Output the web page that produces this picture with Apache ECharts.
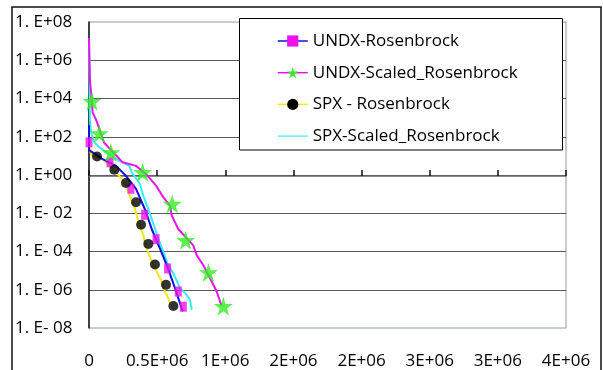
<!DOCTYPE html>
<html>
<head>
<meta charset="utf-8">
<script src="https://cdn.jsdelivr.net/npm/echarts@6/dist/echarts.min.js"></script>
<style>
html,body{margin:0;padding:0;background:#fff;}
#chart{width:603px;height:370px;}
</style>
</head>
<body>
<div id="chart"></div>
<script>
// ---- data ----
const xTickLabels = ['0', '0.5E+06', '1E+06', '2E+06', '2E+06', '3E+06', '3E+06', '4E+06'];
const yTickLabels = ['1. E- 08', '1. E- 06', '1. E- 04', '1. E- 02', '1. E+00', '1. E+02', '1. E+04', '1. E+06', '1. E+08'];
const seriesNames = ['UNDX-Rosenbrock', 'UNDX-Scaled_Rosenbrock', 'SPX - Rosenbrock', 'SPX-Scaled_Rosenbrock'];

// UNDX-Rosenbrock (line + square markers)
const undxRosX = [0, 0, 100000, 198000, 271000, 345000, 418000, 460000, 521000, 580000, 631000, 688000];
const undxRosY = [4e2, 2e1, 6.8, 3.0, 0.91, 0.19, 1.2e-2, 1.5e-3, 1.4e-4, 1.3e-5, 1.2e-6, 7.4e-8];
const undxRosMarkX = [0, 154000, 308000, 408000, 492000, 577000, 655000, 692000];
const undxRosMarkY = [51, 4.6, 0.19, 8.3e-3, 4.4e-4, 1.3e-5, 8.1e-7, 1.3e-7];

// UNDX-Scaled_Rosenbrock (line + star markers)
const undxScX = [0, 7300, 14700, 27000, 51000, 110000, 247000, 345000, 431000, 492000, 545000, 594000, 607000, 655000, 765000, 790000, 839000, 888000, 937000, 961000, 975000];
const undxScY = [1.4e7, 7.9e4, 2.4e4, 1.8e3, 8.1e2, 50, 4.6, 3.0, 0.91, 0.28, 6.9e-2, 2.5e-2, 7.8e-3, 1.5e-3, 2.1e-4, 6.5e-5, 1.9e-5, 4.0e-6, 8.1e-7, 2.5e-7, 1.4e-7];
const undxScMarkX = [22000, 76000, 161000, 394000, 611000, 709000, 876000, 986000];
const undxScMarkY = [7.2e3, 1.5e2, 15, 1.4, 3.1e-2, 3.9e-4, 8.1e-6, 1.4e-7];

// SPX - Rosenbrock (line + dot markers)
const spxRosX = [0, 14700, 100000, 149000, 222000, 259000, 288000, 338000, 362000, 398000, 423000, 460000, 497000, 533000, 558000, 582000, 594000];
const spxRosY = [40, 12, 6.8, 3.0, 0.91, 0.42, 0.13, 1.7e-2, 3.5e-3, 7.1e-4, 1.4e-4, 2.9e-5, 8.9e-6, 2.7e-6, 8.1e-7, 3.6e-7, 2.0e-7];
const spxRosMarkX = [58700, 186000, 271000, 345000, 382000, 435000, 484000, 565000, 619000];
const spxRosMarkY = [9.3, 1.9, 0.38, 3.8e-2, 2.5e-3, 2.5e-4, 2.1e-5, 1.8e-6, 1.4e-7];

// SPX-Scaled_Rosenbrock (line only)
const spxScX = [0, 7300, 14700, 39000, 76000, 222000, 296000, 313000, 374000, 398000, 435000, 472000, 509000, 545000, 582000, 619000, 668000, 717000, 741000, 754000];
const spxScY = [1.4e7, 7.9e2, 1.7e2, 50, 28, 5.5, 3.0, 1.4, 0.34, 8.3e-2, 1.7e-2, 2.8e-3, 4.8e-4, 9.5e-5, 1.9e-5, 7.2e-6, 1.2e-6, 5.4e-7, 3.0e-7, 8.9e-8];

// ---- chart ----
const FONT = '"Open Sans", "Liberation Sans", sans-serif';
const zip = (xs, ys) => xs.map((x, i) => [x, ys[i]]);
const STAR = 'path://M50,0 L61,35 L98,35 L68,57 L79,91 L50,70 L21,91 L32,57 L2,35 L39,35 Z';

const chart = echarts.init(document.getElementById('chart'), null, {renderer: 'canvas'});
const option = {
  animation: false,
  backgroundColor: '#fff',
  textStyle: {fontFamily: FONT},
  grid: {left: 89, top: 22, right: 37, bottom: 40, show: true, borderColor: '#8d9ca4', borderWidth: 1, backgroundColor: 'transparent'},
  graphic: [
    {type: 'rect', z: 10, shape: {x: 12, y: 7, width: 589, height: 420}, style: {fill: 'none', stroke: '#111', lineWidth: 1.5}},
    {type: 'rect', z: 3, shape: {x: 239.5, y: 18.5, width: 323, height: 131.5}, style: {fill: '#fff', stroke: '#000', lineWidth: 1}}
  ],
  legend: {
    orient: 'vertical', left: 277, top: 32, padding: 0, z: 5,
    itemWidth: 30, itemHeight: 14, itemGap: 13.7,
    textStyle: {fontSize: 17, lineHeight: 18, color: '#000', fontFamily: FONT},
    lineStyle: {width: 1.5},
    data: [
      {name: seriesNames[0]},
      {name: seriesNames[1]},
      {name: seriesNames[2]},
      {name: seriesNames[3], icon: 'path://M0,0 L100,0 L100,4 L0,4 Z'}
    ]
  },
  xAxis: [
    {
      type: 'value', min: 0, max: 3.5e6, interval: 5e5, position: 'bottom',
      axisLine: {show: false}, axisTick: {show: false}, splitLine: {show: false},
      axisLabel: {margin: 25, fontSize: 17, color: '#000', fontFamily: FONT,
        formatter: v => xTickLabels[Math.round(v / 5e5)]}
    },
    {
      type: 'value', min: 0, max: 3.5e6, interval: 5e5, position: 'top', offset: -154,
      axisLine: {show: true, lineStyle: {color: '#666', width: 1.5}},
      axisTick: {show: true, inside: false, length: 6, lineStyle: {color: '#111', width: 1.5}},
      axisLabel: {show: false}, splitLine: {show: false}
    }
  ],
  yAxis: {
    type: 'log', logBase: 10, min: 1e-8, max: 1e8, interval: 2,
    axisLine: {show: true, lineStyle: {color: '#111', width: 1.5}},
    axisTick: {show: false},
    axisLabel: {align: 'left', margin: 74, padding: [12, 0, 0, 0], fontSize: 17, color: '#000', fontFamily: FONT,
      formatter: v => yTickLabels[Math.round((Math.log10(v) + 8) / 2)]},
    splitLine: {show: true, showMinLine: false, showMaxLine: false, lineStyle: {color: '#5a5a5a', width: 1}}
  },
  series: [
    {name: seriesNames[0], type: 'line', xAxisIndex: 0, data: zip(undxRosX, undxRosY),
      symbol: 'rect', showSymbol: false, itemStyle: {color: '#ee11ee'},
      lineStyle: {color: '#1010e0', width: 2}, z: 3},
    {name: seriesNames[1], type: 'line', xAxisIndex: 0, data: zip(undxScX, undxScY),
      symbol: STAR, showSymbol: false, itemStyle: {color: '#33ee22'},
      lineStyle: {color: '#ee11ee', width: 2}, z: 3},
    {name: seriesNames[2], type: 'line', xAxisIndex: 0, data: zip(spxRosX, spxRosY),
      symbol: 'circle', showSymbol: false, itemStyle: {color: '#000'},
      lineStyle: {color: '#f2e81a', width: 2}, z: 2},
    {name: seriesNames[3], type: 'line', xAxisIndex: 0, data: zip(spxScX, spxScY),
      symbol: 'none', itemStyle: {color: '#33f0f0'},
      lineStyle: {color: '#33f0f0', width: 2}, z: 2},
    {name: seriesNames[0], type: 'scatter', xAxisIndex: 0, data: zip(undxRosMarkX, undxRosMarkY),
      symbol: 'rect', symbolSize: [7, 10], itemStyle: {color: '#ee11ee'}, z: 6},
    {name: seriesNames[1], type: 'scatter', xAxisIndex: 0, data: zip(undxScMarkX, undxScMarkY),
      symbol: STAR, symbolSize: 19, itemStyle: {color: '#33ee22'}, z: 7},
    {name: seriesNames[2], type: 'scatter', xAxisIndex: 0, data: zip(spxRosMarkX, spxRosMarkY),
      symbol: 'circle', symbolSize: 10, itemStyle: {color: '#000'}, z: 6}
  ]
};
chart.setOption(option);
</script>
</body>
</html>
